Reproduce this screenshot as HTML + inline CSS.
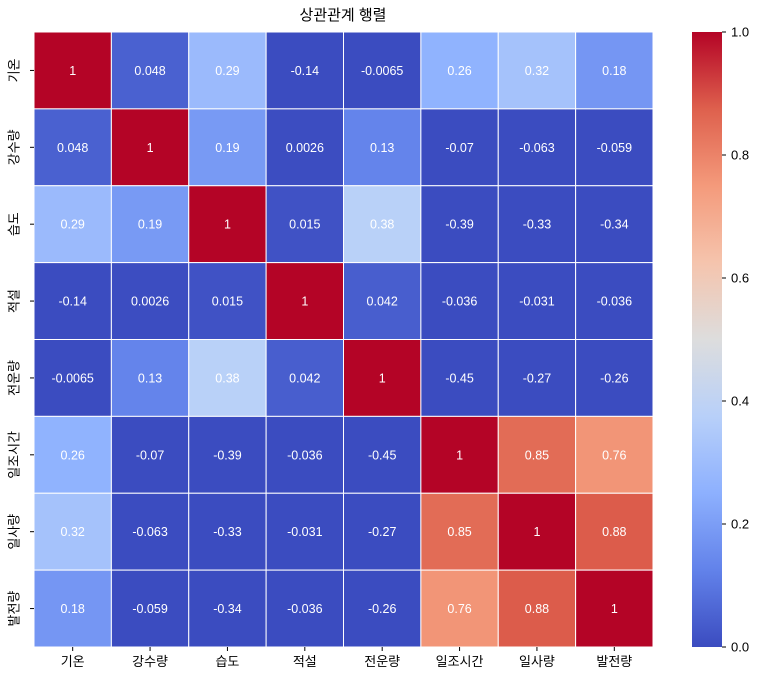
<!DOCTYPE html>
<html><head><meta charset="utf-8"><style>
body{margin:0;background:#fff;}
svg text{font-family:"Liberation Sans","Noto Sans CJK KR",sans-serif;}
</style></head><body>
<svg id="chart" width="760" height="680" xmlns="http://www.w3.org/2000/svg">
<defs><linearGradient id="cw" x1="0" y1="1" x2="0" y2="0">
<stop offset="0" stop-color="rgb(59,76,192)"/><stop offset="0.125" stop-color="rgb(98,130,234)"/><stop offset="0.25" stop-color="rgb(141,176,254)"/><stop offset="0.375" stop-color="rgb(184,208,249)"/><stop offset="0.5" stop-color="rgb(221,221,221)"/><stop offset="0.625" stop-color="rgb(245,196,173)"/><stop offset="0.75" stop-color="rgb(244,154,123)"/><stop offset="0.875" stop-color="rgb(222,96,77)"/><stop offset="1" stop-color="rgb(180,4,38)"/>
</linearGradient></defs>
<text x="343" y="20" font-size="15" text-anchor="middle" fill="#000">상관관계 행렬</text>
<g id="cells"></g>
<rect x="692" y="32" width="30" height="615" fill="url(#cw)"/>
<g id="cbar"></g>
</svg>
<script>
const labels=["기온","강수량","습도","적설","전운량","일조시간","일사량","발전량"];
const row0=[1,0.048,0.29,-0.14,-0.0065,0.26,0.32,0.18];
const row1=[0.048,1,0.19,0.0026,0.13,-0.07,-0.063,-0.059];
const row2=[0.29,0.19,1,0.015,0.38,-0.39,-0.33,-0.34];
const row3=[-0.14,0.0026,0.015,1,0.042,-0.036,-0.031,-0.036];
const row4=[-0.0065,0.13,0.38,0.042,1,-0.45,-0.27,-0.26];
const row5=[0.26,-0.07,-0.39,-0.036,-0.45,1,0.85,0.76];
const row6=[0.32,-0.063,-0.33,-0.031,-0.27,0.85,1,0.88];
const row7=[0.18,-0.059,-0.34,-0.036,-0.26,0.76,0.88,1];
const matrix=[row0,row1,row2,row3,row4,row5,row6,row7];
const cbTicks=[0,0.2,0.4,0.6,0.8,1.0];
const NS="http://www.w3.org/2000/svg";
const L=34,T=32,W=619,H=615,n=labels.length,cw=W/n,ch=H/n;
const xPos=i=>L+i*cw, yPos=i=>T+i*ch;
const stops=[[59,76,192],[98,130,234],[141,176,254],[184,208,249],[221,221,221],[245,196,173],[244,154,123],[222,96,77],[180,4,38]];
function color(v){v=Math.max(0,Math.min(1,v));const p=v*8,i=Math.min(7,Math.floor(p)),f=p-i;const a=stops[i],b=stops[i+1];return `rgb(${a.map((c,k)=>Math.round(c+(b[k]-c)*f)).join(',')})`;}
function mk(t,at,parent){const e=document.createElementNS(NS,t);for(const k in at)e.setAttribute(k,at[k]);parent.appendChild(e);return e;}
const g=document.getElementById('cells');
matrix.forEach((row,r)=>row.forEach((v,c)=>{
  const rc=mk('rect',{x:xPos(c),y:yPos(r),width:cw,height:ch,fill:color(v),stroke:'#fff','stroke-width':1},g);
  
  
  const t=mk('text',{x:xPos(c)+cw/2,y:yPos(r)+ch/2+4.5,'font-size':12.5,'text-anchor':'middle',fill:'#fff'},g);
  t.textContent=String(v);
  
  
}));
labels.forEach((lab,i)=>{
  mk('line',{x1:xPos(i)+cw/2,x2:xPos(i)+cw/2,y1:T+H,y2:T+H+4,stroke:'#000'},g);
  const tx=mk('text',{x:xPos(i)+cw/2,y:T+H+19,'font-size':13,'text-anchor':'middle',fill:'#000'},g);
  tx.textContent=lab;
  
  
  mk('line',{x1:L-4,x2:L,y1:yPos(i)+ch/2,y2:yPos(i)+ch/2,stroke:'#000'},g);
  const cy=yPos(i)+ch/2;
  const ty=mk('text',{x:15,y:cy,'font-size':13,'text-anchor':'middle',fill:'#000',transform:`rotate(-90 15 ${cy})`,'dominant-baseline':'middle'},g);
  ty.textContent=lab;
  
  
});
const cb=document.getElementById('cbar');
cbTicks.forEach(v=>{
  const y=T+H-v*H;
  mk('line',{x1:722,x2:726,y1:y,y2:y,stroke:'#000'},cb);
  const t=mk('text',{x:731,y:y+4.5,'font-size':13,fill:'#000'},cb);
  t.textContent=v.toFixed(1);
  
  
});
</script>
</body></html>
